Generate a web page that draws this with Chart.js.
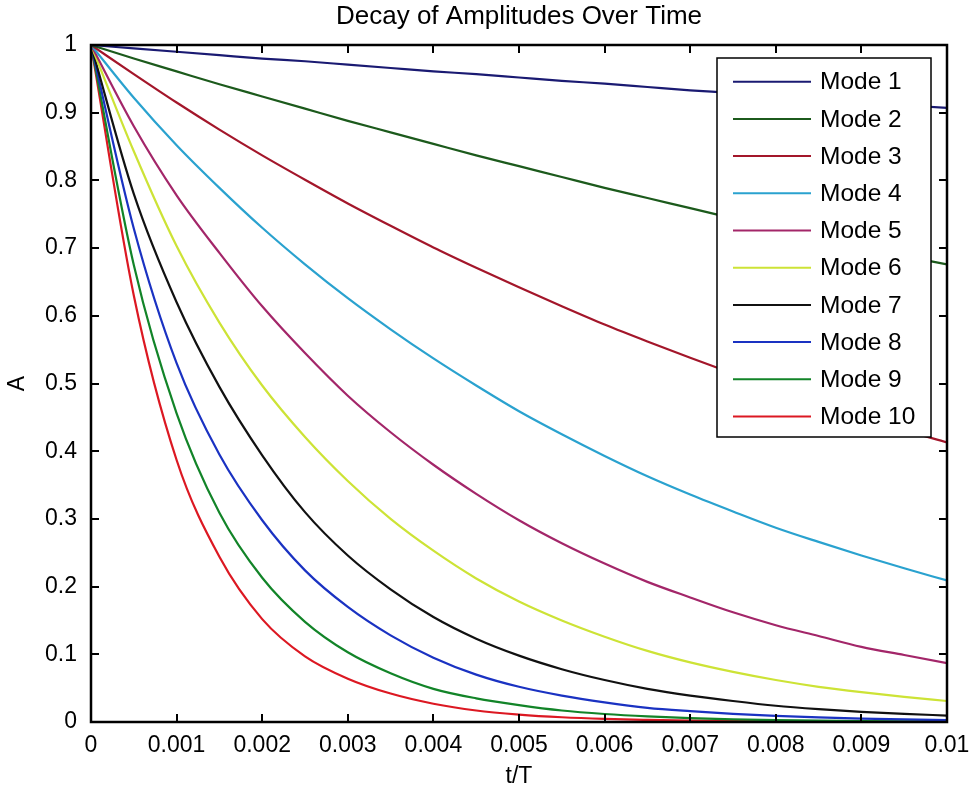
<!DOCTYPE html>
<html>
<head>
<meta charset="utf-8">
<title>Decay of Amplitudes Over Time</title>
<script src="https://cdn.jsdelivr.net/npm/chart.js@4.4.1/dist/chart.umd.min.js"></script>
<style>
  html, body { margin: 0; padding: 0; background: #fff; }
  #wrap { width: 971px; height: 790px; }
</style>
</head>
<body>
<div id="wrap"><canvas id="chart" width="971" height="790"></canvas></div>
<script>
const tValues = [0, 0.0005, 0.001, 0.0015, 0.002, 0.0025, 0.003, 0.0035, 0.004, 0.0045, 0.005,
  0.0055, 0.006, 0.0065, 0.007, 0.0075, 0.008, 0.0085, 0.009, 0.0095, 0.01];

const mode1 = [1, 0.995, 0.990, 0.985, 0.980, 0.976, 0.971, 0.966, 0.961, 0.957, 0.952,
  0.947, 0.943, 0.938, 0.933, 0.929, 0.924, 0.920, 0.915, 0.911, 0.907];
const mode2 = [1, 0.980, 0.961, 0.942, 0.924, 0.906, 0.888, 0.871, 0.854, 0.837, 0.821,
  0.805, 0.789, 0.774, 0.759, 0.744, 0.729, 0.715, 0.701, 0.688, 0.676];
const mode3 = [1, 0.957, 0.915, 0.875, 0.837, 0.801, 0.766, 0.733, 0.701, 0.671, 0.642,
  0.614, 0.587, 0.562, 0.538, 0.515, 0.492, 0.471, 0.451, 0.431, 0.413];
const mode4 = [1, 0.922, 0.852, 0.789, 0.730, 0.676, 0.626, 0.580, 0.537, 0.497, 0.459,
  0.425, 0.393, 0.363, 0.336, 0.311, 0.287, 0.266, 0.246, 0.227, 0.209];
const mode5 = [1, 0.880, 0.778, 0.693, 0.614, 0.545, 0.482, 0.428, 0.380, 0.337, 0.298,
  0.264, 0.234, 0.207, 0.184, 0.162, 0.143, 0.127, 0.111, 0.099, 0.087];
const mode6 = [1, 0.843, 0.703, 0.590, 0.497, 0.421, 0.356, 0.300, 0.253, 0.212, 0.178,
  0.150, 0.126, 0.105, 0.088, 0.074, 0.062, 0.052, 0.044, 0.037, 0.031];
const mode7 = [1, 0.780, 0.620, 0.495, 0.394, 0.310, 0.246, 0.196, 0.155, 0.123, 0.098,
  0.078, 0.062, 0.049, 0.039, 0.031, 0.024, 0.019, 0.015, 0.012, 0.0095];
const mode8 = [1, 0.729, 0.530, 0.395, 0.298, 0.224, 0.170, 0.128, 0.095, 0.070, 0.052,
  0.039, 0.029, 0.021, 0.016, 0.012, 0.009, 0.0068, 0.0051, 0.0038, 0.0029];
const mode9 = [1, 0.675, 0.456, 0.309, 0.213, 0.148, 0.103, 0.072, 0.049, 0.035, 0.025,
  0.017, 0.0118, 0.0082, 0.0057, 0.004, 0.0028, 0.002, 0.0014, 0.001, 0.0007];
const mode10 = [1, 0.630, 0.387, 0.244, 0.152, 0.097, 0.064, 0.042, 0.027, 0.017, 0.011,
  0.007, 0.0045, 0.003, 0.0019, 0.0012, 0.0008, 0.0005, 0.0003, 0.0002, 0.0001];

const seriesNames = ['Mode 1', 'Mode 2', 'Mode 3', 'Mode 4', 'Mode 5',
  'Mode 6', 'Mode 7', 'Mode 8', 'Mode 9', 'Mode 10'];
const seriesValues = [mode1, mode2, mode3, mode4, mode5, mode6, mode7, mode8, mode9, mode10];
const seriesColors = ['#1a1a72', '#1c5a1c', '#a3162a', '#2aa2cf', '#a32669',
  '#cde336', '#111111', '#1a32c2', '#128428', '#dc1822'];

const xTickValues = [0, 0.001, 0.002, 0.003, 0.004, 0.005, 0.006, 0.007, 0.008, 0.009, 0.01];
const xTickLabels = ['0', '0.001', '0.002', '0.003', '0.004', '0.005', '0.006', '0.007', '0.008', '0.009', '0.01'];
const yTickValues = [0, 0.1, 0.2, 0.3, 0.4, 0.5, 0.6, 0.7, 0.8, 0.9, 1];
const yTickLabels = ['0', '0.1', '0.2', '0.3', '0.4', '0.5', '0.6', '0.7', '0.8', '0.9', '1'];

const FONT = "'Liberation Sans', Arial, Helvetica, sans-serif";

// Box around the axes with inward tick marks on all four sides
const axesBox = {
  id: 'axesBox',
  afterDatasetsDraw(chart) {
    const { ctx, chartArea: a, scales } = chart;
    const len = 8;
    ctx.save();
    ctx.strokeStyle = '#000';
    ctx.lineWidth = 2;
    ctx.beginPath();
    scales.x.ticks.forEach(t => {
      const px = Math.round(scales.x.getPixelForValue(t.value));
      ctx.moveTo(px, a.bottom); ctx.lineTo(px, a.bottom - len);
      ctx.moveTo(px, a.top); ctx.lineTo(px, a.top + len);
    });
    scales.y.ticks.forEach(t => {
      const py = Math.round(scales.y.getPixelForValue(t.value));
      ctx.moveTo(a.left, py); ctx.lineTo(a.left + len, py);
      ctx.moveTo(a.right, py); ctx.lineTo(a.right - len, py);
    });
    ctx.stroke();
    ctx.lineWidth = 2.5;
    ctx.strokeRect(a.left, a.top, a.right - a.left, a.bottom - a.top);
    ctx.restore();
  }
};

// Legend drawn inside the plot, top right, like the MATLAB one
const insideLegend = {
  id: 'insideLegend',
  afterDraw(chart) {
    const { ctx, chartArea: a } = chart;
    const sets = chart.data.datasets;
    const boxW = 214, rowH = 37.2;
    const boxH = 379;
    const left = a.right - 16 - boxW;
    const top = a.top + 13;
    ctx.save();
    ctx.fillStyle = '#fff';
    ctx.fillRect(left, top, boxW, boxH);
    ctx.strokeStyle = '#000';
    ctx.lineWidth = 1.5;
    ctx.strokeRect(left, top, boxW, boxH);
    ctx.font = '24.5px ' + FONT;
    ctx.textBaseline = 'middle';
    ctx.textAlign = 'left';
    sets.forEach((ds, i) => {
      const y = top + 23.7 + i * rowH;
      ctx.strokeStyle = ds.borderColor;
      ctx.lineWidth = 2;
      ctx.beginPath();
      ctx.moveTo(left + 16, y);
      ctx.lineTo(left + 94, y);
      ctx.stroke();
      ctx.fillStyle = '#000';
      ctx.fillText(ds.label, left + 103, y + 1);
    });
    ctx.restore();
  }
};

const datasets = seriesNames.map((name, i) => ({
  label: name,
  data: tValues.map((t, j) => ({ x: t, y: seriesValues[i][j] })),
  borderColor: seriesColors[i],
  backgroundColor: seriesColors[i],
  borderWidth: 2.2,
  pointRadius: 0,
  fill: false,
  cubicInterpolationMode: 'monotone'
}));

new Chart(document.getElementById('chart'), {
  type: 'line',
  data: { datasets },
  options: {
    responsive: false,
    animation: false,
    devicePixelRatio: 1,
    layout: { autoPadding: false, padding: { top: 0, right: 24, bottom: 0, left: 0 } },
    plugins: {
      legend: { display: false },
      tooltip: { enabled: false },
      title: {
        display: true,
        fullSize: false,
        text: 'Decay of Amplitudes Over Time',
        color: '#000',
        font: { family: FONT, size: 26, weight: 'normal' },
        padding: { top: 1, bottom: 12.8 }
      }
    },
    scales: {
      x: {
        type: 'linear',
        min: 0,
        max: 0.01,
        afterBuildTicks: s => { s.ticks = xTickValues.map(v => ({ value: v })); },
        afterFit: s => { s.height = 68; s.paddingLeft = 0; s.paddingRight = 0; },
        grid: { display: false, drawTicks: false },
        border: { display: false },
        ticks: {
          callback: (v, i) => xTickLabels[i],
          color: '#000',
          font: { family: FONT, size: 23 },
          padding: 10,
          maxRotation: 0,
          autoSkip: false
        },
        title: {
          display: true,
          text: 't/T',
          color: '#000',
          font: { family: FONT, size: 23 },
          padding: { top: 0, bottom: 0 }
        }
      },
      y: {
        type: 'linear',
        min: 0,
        max: 1,
        afterBuildTicks: s => { s.ticks = yTickValues.map(v => ({ value: v })); },
        afterFit: s => { s.width = 91; s.paddingTop = 0; s.paddingBottom = 0; },
        grid: { display: false, drawTicks: false },
        border: { display: false },
        ticks: {
          callback: (v, i) => yTickLabels[i],
          color: '#000',
          font: { family: FONT, size: 23 },
          padding: 14,
          autoSkip: false
        },
        title: {
          display: true,
          text: 'A',
          color: '#000',
          font: { family: FONT, size: 23 },
          padding: { top: 4, bottom: 0 }
        }
      }
    }
  },
  plugins: [axesBox, insideLegend]
});
</script>
</body>
</html>
